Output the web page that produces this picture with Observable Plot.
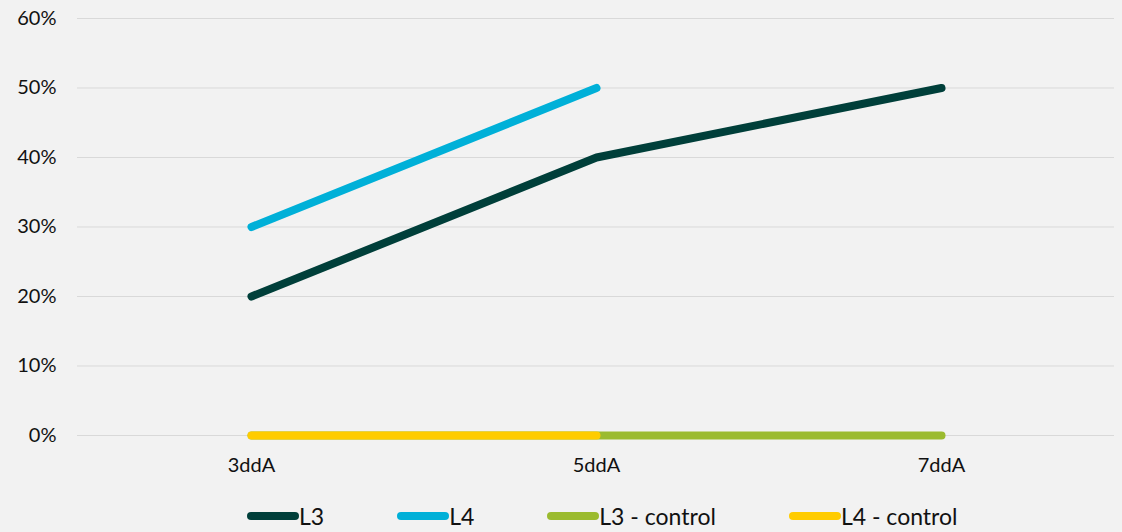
<!DOCTYPE html>
<html>
<head>
<meta charset="utf-8">
<script src="https://cdn.jsdelivr.net/npm/d3@7"></script>
<script src="https://cdn.jsdelivr.net/npm/@observablehq/plot@0.6"></script>
<style>
  html, body { margin: 0; padding: 0; background: #f2f2f2; }
  body { width: 1122px; height: 532px; overflow: hidden; font-family: Lato, "Noto Sans", sans-serif; }
  #chart svg text { font-size: 20px; font-family: Lato, "Noto Sans", sans-serif; fill: #111; }
  #legend { display: flex; align-items: center; gap: 73px; padding-left: 247px; height: 32px; font-size: 23px; color: #111; }
  .item { display: flex; align-items: center; }
  .sw { width: 52px; height: 8px; border-radius: 4px; }
</style>
</head>
<body>
<div id="chart"></div>
<div id="legend"></div>
<script>
const categories = ["3ddA", "5ddA", "7ddA"];
const seriesNames = ["L3", "L4", "L3 - control", "L4 - control"];
const seriesColors = ["#003f3a", "#00b0d8", "#9bbb2f", "#ffcc00"];
const L3 = [0.20, 0.40, 0.50];
const L4 = [0.30, 0.50, null];
const L3control = [0, 0, 0];
const L4control = [0, 0, null];
const yTicks = [0, 0.1, 0.2, 0.3, 0.4, 0.5, 0.6];

const seriesValues = [L3, L4, L3control, L4control];
const rows = [];
seriesValues.forEach((vals, si) => {
  vals.forEach((v, ci) => {
    if (v !== null) rows.push({series: seriesNames[si], cat: categories[ci], value: v});
  });
});
const drawOrder = ["L3 - control", "L4 - control", "L4", "L3"];

const plot = Plot.plot({
  width: 1122,
  height: 500,
  marginLeft: 77,
  marginRight: 8,
  marginTop: 18,
  marginBottom: 65,
  style: {background: "#f2f2f2", fontFamily: "Lato, 'Noto Sans', sans-serif", color: "#111"},
  x: {type: "point", domain: categories, padding: 0.5, label: null},
  y: {domain: [0, 0.6], label: null},
  marks: [
    Plot.gridY(yTicks, {stroke: "#d9d9d9", strokeOpacity: 1, strokeWidth: 1}),
    Plot.axisY({ticks: yTicks, tickFormat: d => Math.round(d * 100) + "%", tickSize: 0, tickPadding: 21, label: null}),
    Plot.axisX({tickSize: 0, tickPadding: 22, label: null}),
    ...drawOrder.map(name => Plot.line(rows.filter(r => r.series === name), {
      x: "cat", y: "value",
      stroke: seriesColors[seriesNames.indexOf(name)],
      strokeWidth: 8, strokeLinecap: "round", strokeLinejoin: "round"
    }))
  ]
});
document.getElementById("chart").appendChild(plot);

const legend = document.getElementById("legend");
seriesNames.forEach((name, i) => {
  const item = document.createElement("div");
  item.className = "item";
  const sw = document.createElement("div");
  sw.className = "sw";
  sw.style.background = seriesColors[i];
  const t = document.createElement("span");
  t.textContent = name;
  item.appendChild(sw);
  item.appendChild(t);
  legend.appendChild(item);
});
</script>
</body>
</html>
